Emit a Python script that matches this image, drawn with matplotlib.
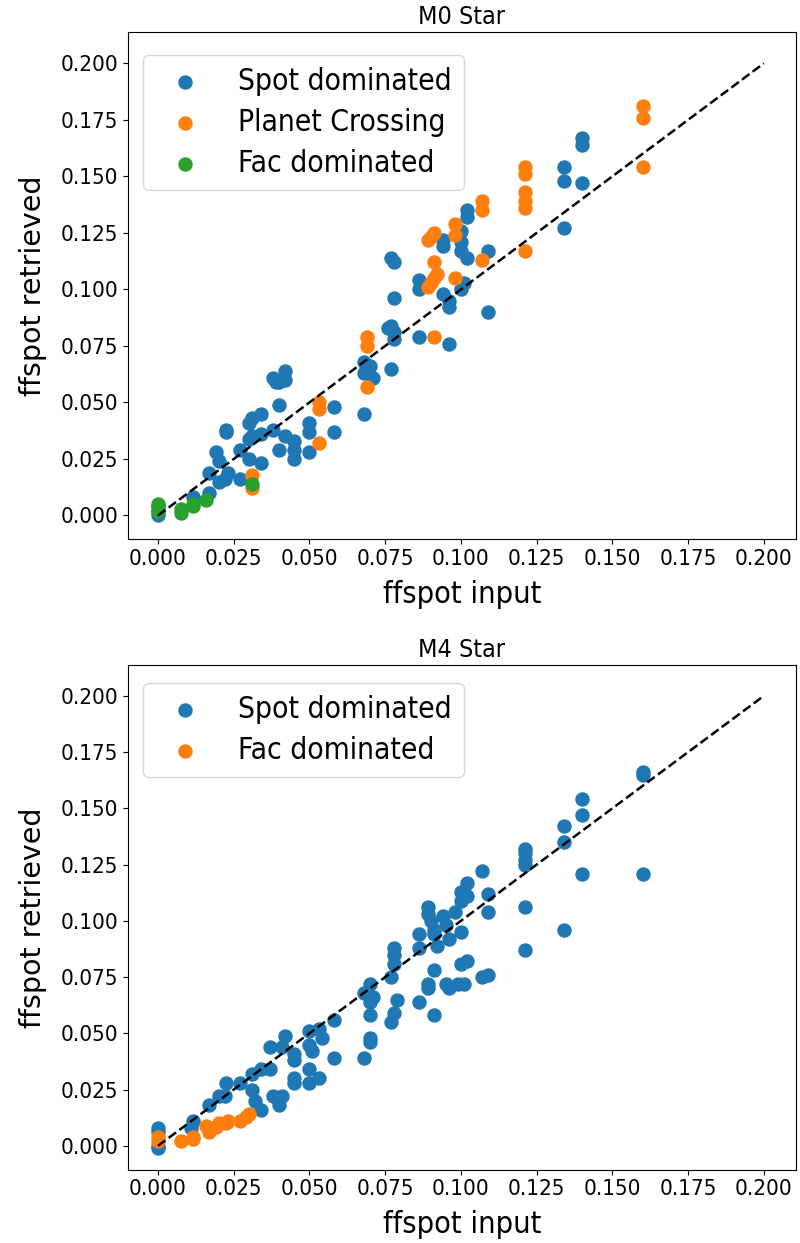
import matplotlib.pyplot as plt
import numpy as np

plt.rcParams["font.family"] = ["DejaVu Sans"]
plt.rcParams["font.stretch"] = "condensed"

# ===== M0 star =====
m0_spot_x = [0, 0, 0, 0.0115, 0.017, 0.020, 0.017, 0.020, 0.019, 0.0225, 0.0225,
             0.023, 0.022, 0.027, 0.027, 0.030, 0.031, 0.034, 0.031, 0.030, 0.030,
             0.034, 0.034, 0.038, 0.040, 0.038, 0.039, 0.042, 0.042, 0.040, 0.042,
             0.040, 0.045, 0.045, 0.045, 0.050, 0.050, 0.050, 0.058, 0.058, 0.068,
             0.068, 0.070, 0.068, 0.071, 0.076, 0.077, 0.077, 0.078, 0.078, 0.078,
             0.078, 0.077, 0.086, 0.086, 0.086, 0.094, 0.094, 0.094, 0.096, 0.096,
             0.096, 0.100, 0.100, 0.100, 0.101, 0.100, 0.102, 0.102, 0.102, 0.109,
             0.109, 0.134, 0.134, 0.134, 0.140, 0.140, 0.140]
m0_spot_y = [0.000, 0.002, 0.004, 0.008, 0.010, 0.015, 0.019, 0.024, 0.028, 0.037, 0.038,
             0.019, 0.016, 0.016, 0.029, 0.041, 0.043, 0.045, 0.035, 0.034, 0.025,
             0.023, 0.036, 0.038, 0.049, 0.061, 0.059, 0.064, 0.060, 0.059, 0.035,
             0.029, 0.033, 0.029, 0.025, 0.041, 0.037, 0.028, 0.048, 0.037, 0.045,
             0.068, 0.066, 0.063, 0.061, 0.083, 0.065, 0.084, 0.081, 0.078, 0.112,
             0.096, 0.114, 0.104, 0.100, 0.079, 0.122, 0.119, 0.098, 0.095, 0.092,
             0.076, 0.126, 0.121, 0.117, 0.103, 0.100, 0.135, 0.132, 0.114, 0.117,
             0.090, 0.154, 0.148, 0.127, 0.167, 0.164, 0.147]

m0_planet_x = [0.031, 0.031, 0.053, 0.053, 0.053, 0.069, 0.069, 0.069, 0.089, 0.090,
               0.091, 0.091, 0.090, 0.091, 0.092, 0.089, 0.091, 0.098, 0.098, 0.098,
               0.107, 0.107, 0.107, 0.121, 0.121, 0.121, 0.121, 0.121, 0.121,
               0.160, 0.160, 0.160]
m0_planet_y = [0.018, 0.012, 0.050, 0.047, 0.032, 0.079, 0.075, 0.057, 0.122, 0.123,
               0.125, 0.112, 0.103, 0.105, 0.107, 0.101, 0.079, 0.129, 0.124, 0.105,
               0.139, 0.135, 0.113, 0.154, 0.151, 0.143, 0.139, 0.136, 0.117,
               0.181, 0.176, 0.154]

m0_fac_x = [0, 0, 0, 0.0077, 0.0077, 0.0115, 0.0115, 0.016, 0.031]
m0_fac_y = [0.004, 0.005, 0.002, 0.001, 0.003, 0.004, 0.005, 0.007, 0.014]

# ===== M4 star =====
m4_spot_x = [0, 0, 0, 0, 0.0115, 0.011, 0.017, 0.020, 0.0225, 0.022, 0.027, 0.031,
             0.034, 0.031, 0.032, 0.034, 0.037, 0.038, 0.041, 0.040, 0.037, 0.042,
             0.041, 0.045, 0.045, 0.045, 0.045, 0.050, 0.050, 0.051, 0.053, 0.054,
             0.050, 0.053, 0.050, 0.058, 0.058, 0.068, 0.068, 0.070, 0.070, 0.071,
             0.070, 0.070, 0.070, 0.077, 0.078, 0.079, 0.077, 0.078, 0.078, 0.078,
             0.086, 0.086, 0.086, 0.089, 0.089, 0.090, 0.091, 0.091, 0.092, 0.091,
             0.089, 0.089, 0.091, 0.094, 0.095, 0.096, 0.095, 0.096, 0.098, 0.100,
             0.099, 0.101, 0.100, 0.100, 0.102, 0.102, 0.100, 0.102, 0.107, 0.109,
             0.109, 0.107, 0.109, 0.121, 0.121, 0.121, 0.121, 0.121, 0.121, 0.134,
             0.134, 0.134, 0.140, 0.140, 0.140, 0.160, 0.160, 0.160]
m4_spot_y = [0.008, 0.006, 0.000, -0.001, 0.011, 0.008, 0.018, 0.022, 0.028, 0.022,
             0.028, 0.032, 0.034, 0.025, 0.020, 0.016, 0.034, 0.022, 0.022, 0.018,
             0.044, 0.049, 0.044, 0.041, 0.038, 0.030, 0.028, 0.051, 0.045, 0.042,
             0.052, 0.048, 0.034, 0.030, 0.028, 0.056, 0.039, 0.039, 0.068, 0.072,
             0.064, 0.066, 0.058, 0.048, 0.046, 0.055, 0.059, 0.065, 0.075, 0.081,
             0.085, 0.088, 0.094, 0.088, 0.064, 0.106, 0.103, 0.100, 0.096, 0.094,
             0.089, 0.078, 0.072, 0.070, 0.058, 0.102, 0.098, 0.092, 0.072, 0.070,
             0.104, 0.095, 0.072, 0.072, 0.109, 0.113, 0.117, 0.111, 0.081, 0.082,
             0.122, 0.112, 0.104, 0.075, 0.076, 0.132, 0.130, 0.127, 0.125, 0.106,
             0.087, 0.142, 0.135, 0.096, 0.154, 0.147, 0.121, 0.166, 0.165, 0.121]

m4_fac_x = [0, 0, 0.0077, 0.0115, 0.0115, 0.016, 0.017, 0.019, 0.020, 0.0225, 0.023,
            0.027, 0.029, 0.030]
m4_fac_y = [0.004, 0.002, 0.002, 0.004, 0.003, 0.009, 0.006, 0.0084, 0.010, 0.010,
            0.011, 0.011, 0.013, 0.014]

fig = plt.figure(figsize=(8, 12.43), dpi=100)
ax1 = fig.add_axes([0.16, 0.566, 0.835, 0.408])
ax2 = fig.add_axes([0.16, 0.059, 0.835, 0.406])

ms = 88
ax1.scatter(m0_spot_x, m0_spot_y, s=ms, color="C0", label="Spot dominated")
ax1.scatter(m0_planet_x, m0_planet_y, s=ms, color="C1", label="Planet Crossing")
ax1.scatter(m0_fac_x, m0_fac_y, s=ms, color="C2", label="Fac dominated")
ax1.plot([0, 0.2], [0, 0.2], "k--", lw=1.8)
ax1.set_title("M0 Star", fontsize=18)

ax2.scatter(m4_spot_x, m4_spot_y, s=ms, color="C0", label="Spot dominated")
ax2.scatter(m4_fac_x, m4_fac_y, s=ms, color="C1", label="Fac dominated")
ax2.plot([0, 0.2], [0, 0.2], "k--", lw=1.8)
ax2.set_title("M4 Star", fontsize=18)

ticks = np.arange(0, 0.201, 0.025)
for ax, top in ((ax1, 0.984), (ax2, 0.994)):
    ax.set_xticks(ticks)
    ax.set_yticks(ticks)
    ax.set_xlim(-0.0099, 0.2106)
    ax.set_ylim(-0.0106, 0.2137)
    ax.tick_params(labelsize=16)
    ax.set_xlabel("ffspot input", fontsize=22, labelpad=8)
    ax.set_ylabel("ffspot retrieved", fontsize=20.5, fontstretch="normal", labelpad=10)
    ax.legend(loc="upper left", bbox_to_anchor=(0, top), fontsize=21.5,
              labelspacing=0.4)

fig.savefig("out.png", dpi=100)
